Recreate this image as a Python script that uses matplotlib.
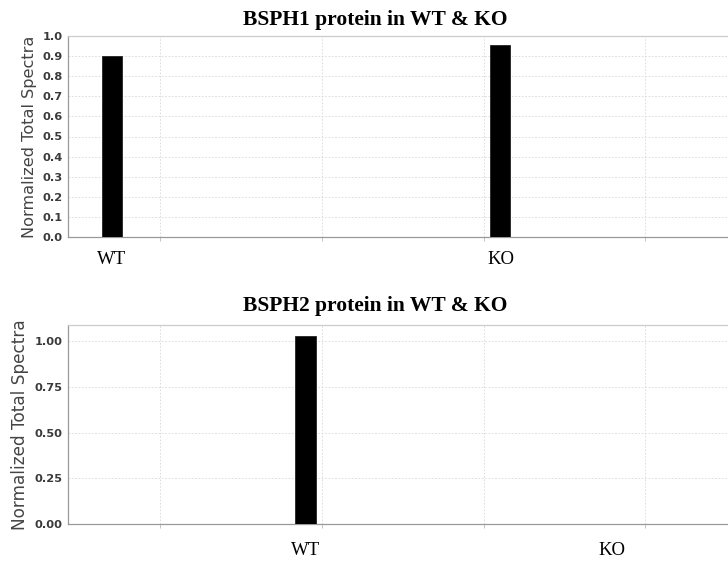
import matplotlib
matplotlib.use("Agg")
import matplotlib.pyplot as plt

categories = ["WT", "KO"]
bsph1_values = [0.90, 0.955]
bsph2_values = [1.03, 0.0]
titles = ["BSPH1 protein in WT & KO", "BSPH2 protein in WT & KO"]

# layout: bar centres in grid units (grid lines at 1, 2, 3, 4)
bar_pos = [[0.704, 3.10], [1.90, 3.79]]
label_pos = [[0.704, 3.11], [1.90, 3.79]]
bar_width = 0.125
grid_x = [1, 2, 3, 4]

fig = plt.figure(figsize=(7.28, 5.61), dpi=100)
ax1 = fig.add_axes([68 / 728, 1 - 237 / 561, 1 - 68 / 728, 201 / 561])
ax2 = fig.add_axes([68 / 728, 1 - 524 / 561, 1 - 68 / 728, 199 / 561])

panels = [
    (ax1, bsph1_values, (0, 1.0), [i / 10 for i in range(11)], "%.1f", 11.6),
    (ax2, bsph2_values, (0, 1.09), [0, 0.25, 0.5, 0.75, 1.0], "%.2f", 12.2),
]

for i, (ax, vals, ylim, yticks, fmt, ylab_size) in enumerate(panels):
    ax.bar(bar_pos[i], vals, width=bar_width, color="black",
           edgecolor="#222222", linewidth=0.6, zorder=3)
    ax.set_xlim(0.432, 4.51)
    ax.set_ylim(*ylim)
    ax.set_yticks(yticks)
    ax.set_yticklabels([fmt % t for t in yticks], fontsize=8.2,
                       fontweight="bold", color="#3a3a3a")
    ax.set_xticks(grid_x)
    ax.set_xticklabels([])
    ax.set_xticks(label_pos[i], minor=True)
    ax.set_xticklabels(categories, minor=True, fontfamily="Liberation Serif",
                       fontsize=13.5, color="black")
    ax.tick_params(axis="x", which="minor", length=0, pad=10 if i == 0 else 13)
    ax.tick_params(axis="x", which="major", length=3, color="#bbbbbb", width=0.6)
    ax.tick_params(axis="y", length=0, pad=4)
    ax.grid(True, which="major", linestyle=(0, (2, 2)), color="#d8d8d8",
            linewidth=0.6, zorder=0)
    for side in ["left", "bottom", "top"]:
        ax.spines[side].set_color("#999999")
        ax.spines[side].set_linewidth(0.9)
    ax.spines["top"].set_color("#cccccc")
    ax.spines["right"].set_visible(False)
    ax.set_ylabel("Normalized Total Spectra", fontsize=ylab_size,
                  color="#444444", labelpad=4)
    ax.set_title(titles[i], fontfamily="Liberation Serif", fontweight="bold",
                 fontsize=15.5, pad=8 if i == 0 else 10, x=0.465)

fig.savefig("out.png", dpi=100)
